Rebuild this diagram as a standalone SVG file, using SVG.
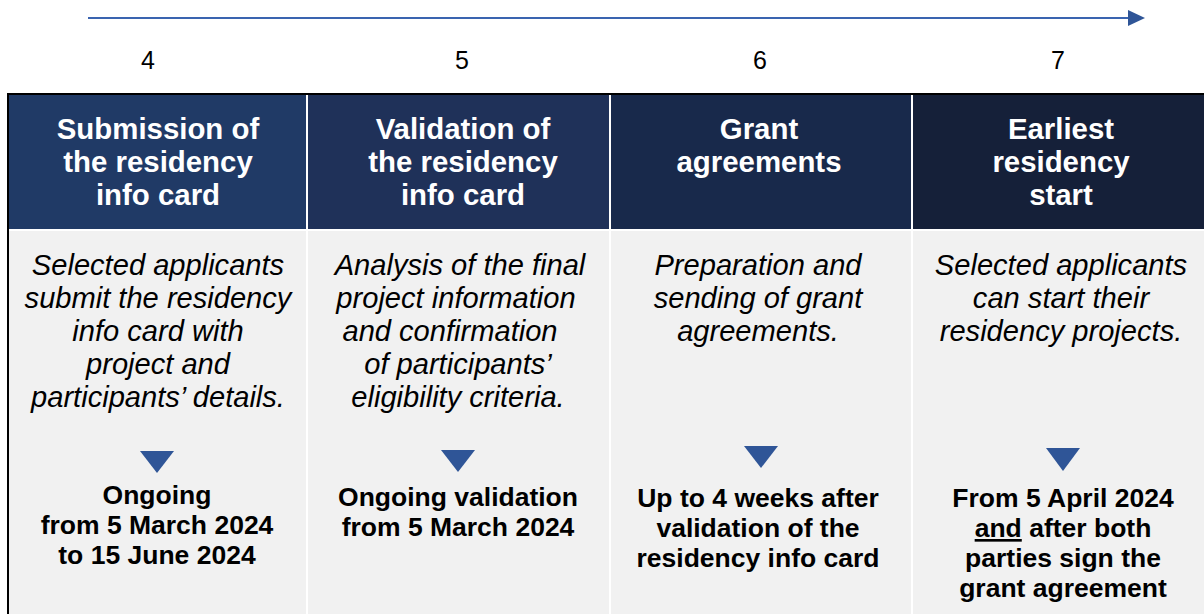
<svg xmlns="http://www.w3.org/2000/svg" width="1204" height="614" viewBox="0 0 1204 614">
<style>
.num{font-family:"Liberation Sans",Arial,sans-serif;font-size:25px;fill:#000;text-anchor:middle}
.hd{font-family:"Liberation Sans",Arial,sans-serif;font-size:29.4px;font-weight:bold;fill:#fff;text-anchor:middle}
.bd{font-family:"Liberation Sans",Arial,sans-serif;font-size:29.1px;font-style:italic;fill:#000;text-anchor:middle}
.dt{font-family:"Liberation Sans",Arial,sans-serif;font-size:26.5px;font-weight:bold;fill:#000;text-anchor:middle}
.body{fill:#f1f1f1}
.tri{fill:#2f5597}
</style>
<rect width="1204" height="614" fill="#fff"/>
<g id="timeline">
<line x1="88" y1="18" x2="1130" y2="18" stroke="#3a64b0" stroke-width="2"/>
<polygon points="1128,10 1145,18 1128,26" fill="#2f5597"/>
</g>
<g id="border">
<rect x="7" y="93" width="1197" height="2" fill="#000"/>
<rect x="7" y="93" width="2" height="521" fill="#000"/>
</g>
<g id="step4">
<text class="num" x="148" y="69">4</text>
<rect x="9" y="95" width="297" height="134" fill="#203a66"/>
<text class="hd" x="158" y="139">Submission of</text>
<text class="hd" x="158" y="172">the residency</text>
<text class="hd" x="158" y="205">info card</text>
<rect class="body" x="9" y="231" width="297" height="383"/>
<text class="bd" x="158" y="275">Selected applicants</text>
<text class="bd" x="158" y="308">submit the residency</text>
<text class="bd" x="158" y="341">info card with</text>
<text class="bd" x="158" y="374">project and</text>
<text class="bd" x="158" y="407">participants’ details.</text>
<polygon class="tri" points="140,451 174,451 157,473"/>
<text class="dt" x="157" y="504">Ongoing</text>
<text class="dt" x="157" y="534">from 5 March 2024</text>
<text class="dt" x="157" y="564">to 15 June 2024</text>
</g>
<g id="step5">
<text class="num" x="462" y="69">5</text>
<rect x="308" y="95" width="301" height="134" fill="#1f3159"/>
<text class="hd" x="463" y="139">Validation of</text>
<text class="hd" x="463" y="172">the residency</text>
<text class="hd" x="463" y="205">info card</text>
<rect class="body" x="308" y="231" width="301" height="383"/>
<text class="bd" x="460" y="275">Analysis of the final</text>
<text class="bd" x="456" y="308">project information</text>
<text class="bd" x="450" y="341">and confirmation</text>
<text class="bd" x="458" y="374">of participants’</text>
<text class="bd" x="458" y="407">eligibility criteria.</text>
<polygon class="tri" points="441,450 475,450 458,472"/>
<text class="dt" x="458" y="506">Ongoing validation</text>
<text class="dt" x="458" y="536">from 5 March 2024</text>
</g>
<g id="step6">
<text class="num" x="760" y="69">6</text>
<rect x="611" y="95" width="300" height="134" fill="#18294b"/>
<text class="hd" x="759" y="139">Grant</text>
<text class="hd" x="759" y="172">agreements</text>
<rect class="body" x="611" y="231" width="300" height="383"/>
<text class="bd" x="758" y="275">Preparation and</text>
<text class="bd" x="758" y="308">sending of grant</text>
<text class="bd" x="758" y="341">agreements.</text>
<polygon class="tri" points="744,446 778,446 761,468"/>
<text class="dt" x="758" y="507">Up to 4 weeks after</text>
<text class="dt" x="758" y="537">validation of the</text>
<text class="dt" x="758" y="567">residency info card</text>
</g>
<g id="step7">
<text class="num" x="1058" y="69">7</text>
<rect x="913" y="95" width="291" height="134" fill="#152039"/>
<text class="hd" x="1061" y="139">Earliest</text>
<text class="hd" x="1061" y="172">residency</text>
<text class="hd" x="1061" y="205">start</text>
<rect class="body" x="913" y="231" width="291" height="383"/>
<text class="bd" x="1061" y="275">Selected applicants</text>
<text class="bd" x="1061" y="308">can start their</text>
<text class="bd" x="1061" y="341">residency projects.</text>
<polygon class="tri" points="1046,448 1080,448 1063,471"/>
<text class="dt" x="1063" y="507">From 5 April 2024</text>
<text class="dt" x="1063" y="537"><tspan text-decoration="underline">and</tspan> after both</text>
<text class="dt" x="1063" y="567">parties sign the</text>
<text class="dt" x="1063" y="597">grant agreement</text>
</g>
</svg>
